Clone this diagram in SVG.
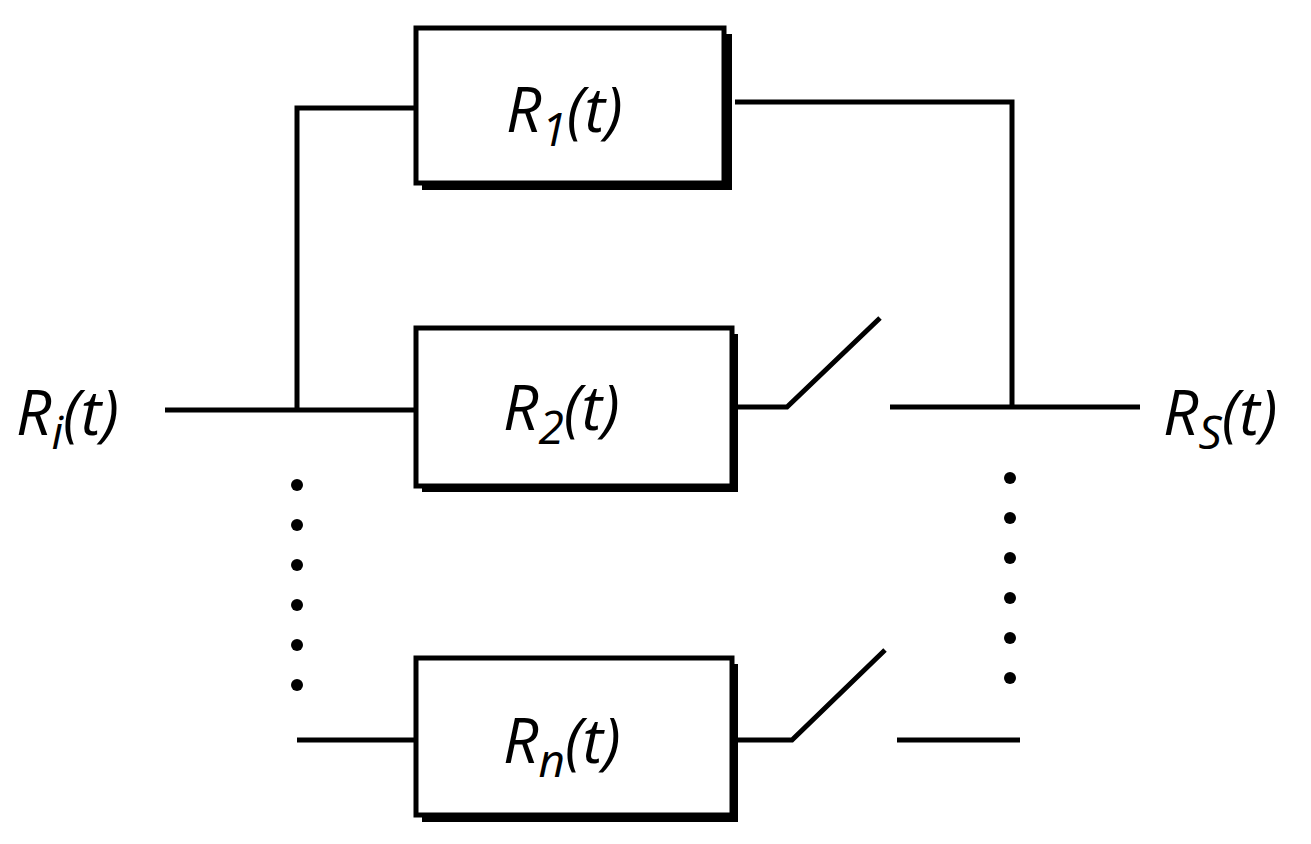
<svg xmlns="http://www.w3.org/2000/svg" width="1311" height="844" viewBox="0 0 1311 844">
<style>
.w{stroke:#000;stroke-width:5;fill:none}
.b{fill:#fff;stroke:#000;stroke-width:5}
.s{fill:#000}
text{font-family:"Open Sans","Liberation Sans",sans-serif;font-style:italic;font-size:62px;fill:#000}
.sub{font-size:46px}
</style>
<rect width="1311" height="844" fill="#fff"/>
<g id="connectors">
<path class="w" d="M165 410H416M297 410V108H416M735 102H1012V407M890 407H1140M738 407H787L880 318M297 740H416M738 740H792L885 650M897 740H1020"/>
<g class="s">
<circle cx="297" cy="485" r="6"/><circle cx="297" cy="525" r="6"/><circle cx="297" cy="565" r="6"/><circle cx="297" cy="605" r="6"/><circle cx="297" cy="645" r="6"/><circle cx="297" cy="685" r="6"/>
<circle cx="1010" cy="478" r="6"/><circle cx="1010" cy="518" r="6"/><circle cx="1010" cy="558" r="6"/><circle cx="1010" cy="598" r="6"/><circle cx="1010" cy="638" r="6"/><circle cx="1010" cy="678" r="6"/>
</g>
</g>
<g id="r1"><rect class="s" x="422" y="34" width="310" height="156"/><rect class="b" x="416" y="28" width="308" height="155"/><text x="506" y="132">R<tspan class="sub" dy="14">1</tspan><tspan dy="-14">(t)</tspan></text></g>
<g id="r2"><rect class="s" x="422" y="334" width="316" height="158"/><rect class="b" x="416" y="328" width="316" height="158"/><text x="503" y="430">R<tspan class="sub" dy="14">2</tspan><tspan dy="-14">(t)</tspan></text></g>
<g id="rn"><rect class="s" x="422" y="664" width="316" height="158"/><rect class="b" x="416" y="658" width="316" height="157"/><text x="503" y="763">R<tspan class="sub" dy="14">n</tspan><tspan dy="-14">(t)</tspan></text></g>
<g id="ri"><text x="16" y="435">R<tspan class="sub" dy="14">i</tspan><tspan dy="-14">(t)</tspan></text></g>
<g id="rs"><text x="1163" y="435">R<tspan class="sub" dy="14">S</tspan><tspan dy="-14">(t)</tspan></text></g>
</svg>
